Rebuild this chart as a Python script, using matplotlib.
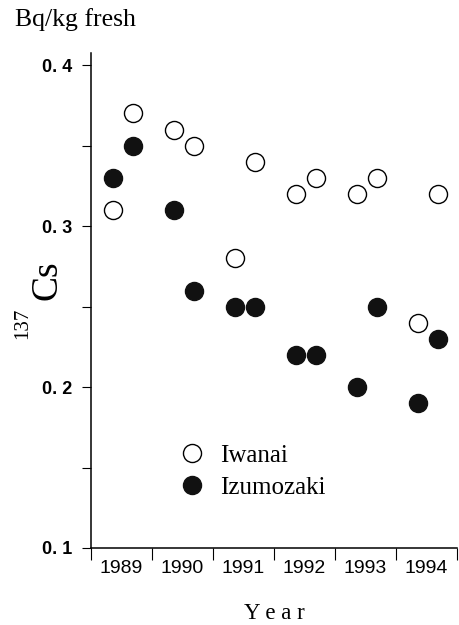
import matplotlib
matplotlib.use("Agg")
import matplotlib.pyplot as plt
from matplotlib.ticker import FixedLocator, MultipleLocator, NullFormatter
import numpy as np

# sampling dates (decimal years): spring and autumn each year
years = [1989, 1990, 1991, 1992, 1993, 1994]
sample_dates = [1989.355, 1989.69, 1990.355, 1990.69, 1991.355, 1991.69,
                1992.355, 1992.69, 1993.355, 1993.69, 1994.355, 1994.69]
iwanai = [0.31, 0.37, 0.36, 0.35, 0.28, 0.34,
          0.32, 0.33, 0.32, 0.33, 0.24, 0.32]
izumozaki = [0.33, 0.35, 0.31, 0.26, 0.25, 0.25,
             0.22, 0.22, 0.20, 0.25, 0.19, 0.23]
yticks = [0.1, 0.2, 0.3, 0.4]
ytick_labels = ['0. 1', '0. 2', '0. 3', '0. 4']

serif = ['Liberation Serif', 'DejaVu Serif']
sans = ['Liberation Sans', 'DejaVu Sans']

fig = plt.figure(figsize=(4.6, 6.25), dpi=100)
ax = fig.add_axes([0.198, 0.1232, 0.7955, 0.7918])

ax.plot(sample_dates, iwanai, 'o', ms=13, mfc='white', mec='black', mew=1.0,
        label='Iwanai', zorder=3)
ax.plot(sample_dates, izumozaki, 'o', ms=13, mfc='#111111', mec='#111111', mew=1.0,
        label='Izumozaki', zorder=3)

ax.set_xlim(years[0], years[-1] + 1)
ax.set_ylim(0.1, 0.4075)

for s in ['top', 'right']:
    ax.spines[s].set_visible(False)
for s in ['left', 'bottom']:
    ax.spines[s].set_linewidth(1.1)

# x: ticks at year boundaries, labels centred within each year
ax.xaxis.set_major_locator(FixedLocator(list(years) + [years[-1] + 1]))
ax.xaxis.set_major_formatter(NullFormatter())
ax.set_xticks([y + 0.5 for y in years], [str(y) for y in years], minor=True)
ax.tick_params(axis='x', which='major', direction='out', length=8.5, width=0.8)
ax.tick_params(axis='x', which='minor', length=0, pad=8.5, labelsize=14)
for lab in ax.get_xticklabels(minor=True):
    lab.set_family(sans)

# y
ax.set_yticks(yticks, ytick_labels)
ax.yaxis.set_minor_locator(MultipleLocator(0.05))
ax.tick_params(axis='y', which='both', direction='out', length=6.7, width=0.8)
ax.tick_params(axis='y', which='major', pad=7, labelsize=13)
for lab in ax.get_yticklabels():
    lab.set_family(sans)
    lab.set_fontweight('bold')

fig.text(0.033, 0.958, 'Bq/kg fresh', family=serif, fontsize=18.5, ha='left',
         va='baseline')
# y label: superscript mass number and element symbol
fig.text(0.103, 0.552, 'Cs', family=serif, fontsize=27,
         rotation=90, ha='center', va='center')
fig.text(0.05, 0.482, '137', family=serif, fontsize=15,
         rotation=90, ha='center', va='center')
ax.set_xlabel('Y e a r', family=serif, fontsize=16.5, labelpad=19)

ax.legend(loc='upper left', bbox_to_anchor=(0.249, 0.209), frameon=False,
          prop={'family': serif, 'size': 18}, handlelength=0.8,
          handletextpad=0.72, labelspacing=0.36, borderpad=0, borderaxespad=0)

fig.savefig('out.png', dpi=100)
